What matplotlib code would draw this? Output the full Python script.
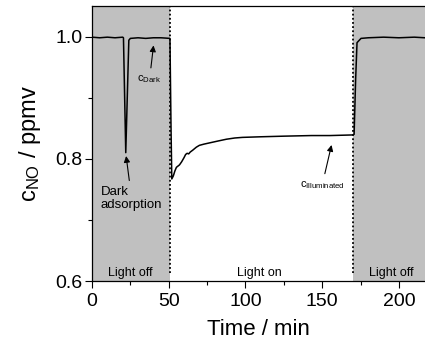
import matplotlib
matplotlib.use("Agg")
import matplotlib.pyplot as plt
from matplotlib.ticker import MultipleLocator

plt.rcParams['font.family'] = ['Liberation Sans', 'DejaVu Sans']
plt.rcParams['mathtext.default'] = 'regular'

# NO concentration over time (min), light off / on / off
time = [0, 5, 10, 15, 20, 20.5, 22.0, 24.0, 25, 30,
        35, 40, 45, 50.8, 51.5, 52, 53, 54, 55, 57,
        58.4, 60, 61, 62, 63, 64, 65.6, 68, 70, 73,
        76.6, 82, 87.6, 93, 98, 110, 125, 143, 155, 169.8,
        170.8, 171.8, 172.7, 175.3, 180, 190, 200, 210, 217]
c_no = [0.999, 0.998, 0.999, 0.998, 0.999, 0.998, 0.81, 0.994, 0.997, 0.998,
        0.997, 0.998, 0.998, 0.997, 0.85, 0.767, 0.772, 0.78, 0.786, 0.79,
        0.795, 0.802, 0.807, 0.809, 0.808, 0.811, 0.814, 0.819, 0.822, 0.824,
        0.826, 0.829, 0.832, 0.834, 0.835, 0.836, 0.837, 0.838, 0.838, 0.839,
        0.84, 0.93, 0.99, 0.997, 0.998, 0.999, 0.998, 0.999, 0.998]
light_on = (51, 170)
x_end = 217

fig = plt.figure(figsize=(4.25, 3.51), dpi=100)
ax = fig.add_axes([92 / 425, 70 / 351, 1 - 92 / 425, 275 / 351])

ax.axvspan(0, light_on[0], color='#c0c0c0', lw=0)
ax.axvspan(light_on[1], x_end, color='#c0c0c0', lw=0)
for xv in light_on:
    ax.axvline(xv, ymin=0.03, ymax=1, color='black', ls=(0, (1, 1.3)), lw=1.3)

ax.plot(time, c_no, color='black', lw=1.1)

ax.set_xlim(0, x_end)
ax.set_ylim(0.6, 1.05)
ax.set_xticks([0, 50, 100, 150, 200])
ax.set_yticks([0.6, 0.8, 1.0])
ax.xaxis.set_minor_locator(MultipleLocator(25))
ax.yaxis.set_minor_locator(MultipleLocator(0.1))
ax.tick_params(which='major', direction='out', length=5, width=0.8, labelsize=14)
ax.tick_params(axis='x', which='major', pad=4)
ax.tick_params(axis='y', which='major', pad=2)
ax.tick_params(which='minor', direction='out', length=3, width=0.8)
ax.spines['right'].set_visible(False)
for s in ('left', 'bottom', 'top'):
    ax.spines[s].set_linewidth(0.9)

ax.set_xlabel('Time / min', fontsize=16, labelpad=6)
ax.set_ylabel('c$_{NO}$ / ppmv', fontsize=17, labelpad=9)

ax.text(25, 0.604, 'Light off', fontsize=9, ha='center', va='bottom')
ax.text(109, 0.604, 'Light on', fontsize=9, ha='center', va='bottom')
ax.text(195, 0.604, 'Light off', fontsize=9, ha='center', va='bottom')

arrow = dict(arrowstyle='-|>', color='black', lw=0.8, mutation_scale=9)
ax.annotate('c$_{Dark}$', xy=(40.3, 0.99), xytext=(37.5, 0.93),
            fontsize=8, ha='center', va='center', arrowprops=arrow)
ax.annotate('Dark\nadsorption', xy=(22, 0.809), xytext=(5.8, 0.735),
            fontsize=9.5, ha='left', va='center', linespacing=1.1, arrowprops=arrow)
ax.annotate('c$_{Illuminated}$', xy=(156.5, 0.827), xytext=(150, 0.757),
            fontsize=8, ha='center', va='center', arrowprops=arrow)

fig.savefig('out.png', dpi=100)
